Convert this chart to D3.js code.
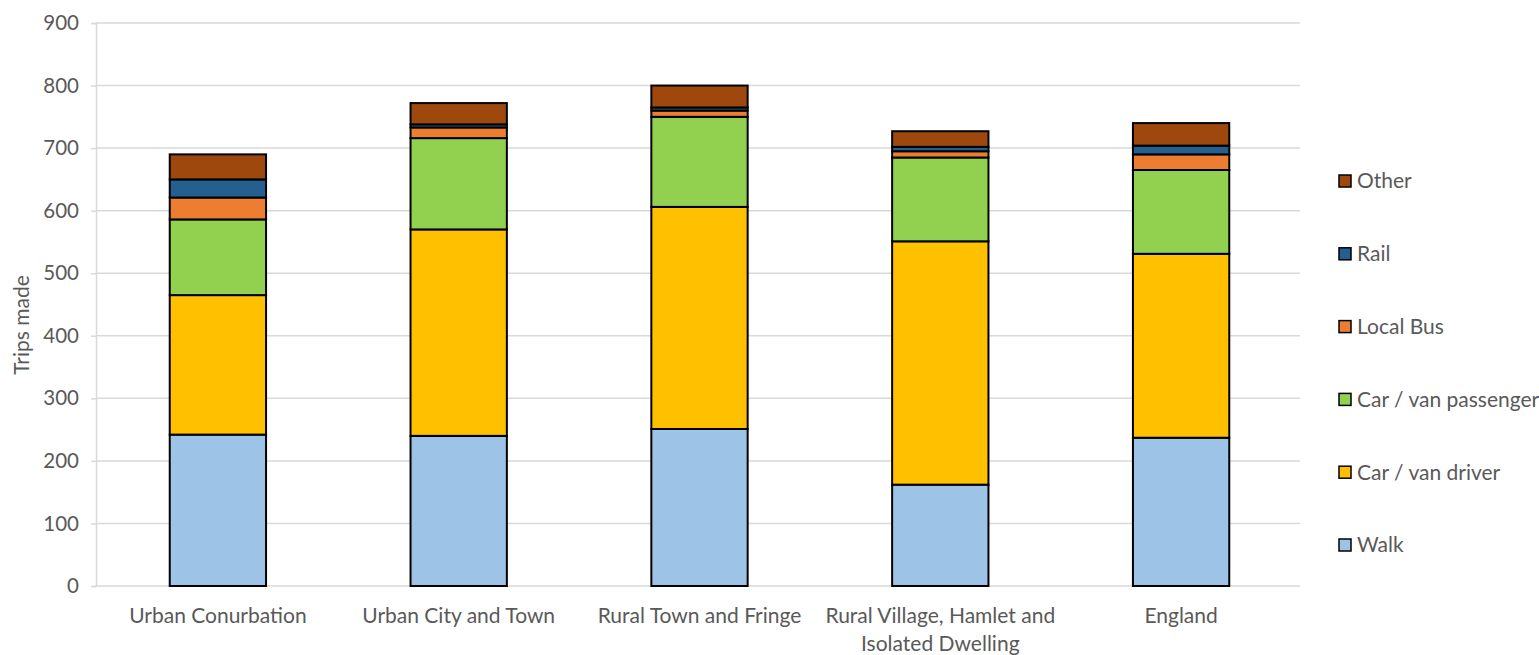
<!DOCTYPE html>
<html>
<head>
<meta charset="utf-8">
<script src="https://cdn.jsdelivr.net/npm/d3@7"></script>
<style>
  html, body { margin: 0; padding: 0; background: #fff; }
  svg { display: block; font-family: Lato, "Open Sans", sans-serif; }
</style>
</head>
<body>
<svg id="chart" width="1539" height="655"></svg>
<script>
const categories = [
  ["Urban Conurbation"],
  ["Urban City and Town"],
  ["Rural Town and Fringe"],
  ["Rural Village, Hamlet and", "Isolated Dwelling"],
  ["England"]
];
const seriesNames = ["Walk", "Car / van driver", "Car / van passenger", "Local Bus", "Rail", "Other"];
const walk      = [242, 240, 251, 162, 237];
const driver    = [223, 330, 355, 389, 294];
const passenger = [121, 146, 144, 134, 134];
const bus       = [35, 17, 10, 10, 25];
const rail      = [29, 5, 5, 7, 14];
const other     = [40, 34, 35, 25, 36];
const yTicks    = [0, 100, 200, 300, 400, 500, 600, 700, 800, 900];
const colors    = ["#9DC3E6", "#FFC000", "#92D050", "#ED7D31", "#255E91", "#9E480E"];

const seriesValues = [walk, driver, passenger, bus, rail, other];
const rows = categories.map((c, i) => {
  const r = { key: i };
  seriesNames.forEach((s, j) => { r[s] = seriesValues[j][i]; });
  return r;
});

const svg = d3.select("#chart");
const plotLeft = 96, plotRight = 1300, plotTop = 23, plotBottom = 586;

const x = d3.scaleBand().domain(categories.map((c, i) => i)).range([plotLeft + 1.5, plotRight + 1.5])
  .paddingInner(0.6).paddingOuter(0.3);
const y = d3.scaleLinear().domain([0, 900]).range([plotBottom, plotTop]);
const color = d3.scaleOrdinal().domain(seriesNames).range(colors);

// gridlines
svg.append("g").selectAll("line").data(yTicks.filter(t => t > 0)).join("line")
  .attr("x1", plotLeft).attr("x2", plotRight)
  .attr("y1", d => y(d)).attr("y2", d => y(d))
  .attr("stroke", "#d9d9d9").attr("stroke-width", 1.5);

// y axis
const yAxis = svg.append("g").attr("transform", `translate(${plotLeft},0)`)
  .call(d3.axisLeft(y).tickValues(yTicks).tickSize(5).tickPadding(12));
yAxis.select(".domain").attr("stroke", "#d9d9d9").attr("stroke-width", 1.5);
yAxis.selectAll(".tick line").attr("stroke", "#d9d9d9").attr("stroke-width", 1.5);
yAxis.selectAll(".tick text").attr("fill", "#595959").style("font-size", "20.5px")
  .style("font-family", "Lato, 'Open Sans', sans-serif");

// x baseline
svg.append("line").attr("x1", plotLeft).attr("x2", plotRight)
  .attr("y1", y(0)).attr("y2", y(0)).attr("stroke", "#d9d9d9").attr("stroke-width", 1.5);

// stacked bars
const stack = d3.stack().keys(seriesNames)(rows);
svg.append("g").selectAll("g").data(stack).join("g")
  .attr("fill", d => color(d.key))
  .selectAll("rect").data(d => d).join("rect")
  .attr("x", d => x(d.data.key))
  .attr("width", x.bandwidth())
  .attr("y", d => y(d[1]))
  .attr("height", d => y(d[0]) - y(d[1]))
  .attr("stroke", "#000").attr("stroke-width", 2);

// category labels
const xl = svg.append("g");
categories.forEach((lines, i) => {
  const cx = x(i) + x.bandwidth() / 2;
  const t = xl.append("text").attr("text-anchor", "middle")
    .attr("fill", "#595959").style("font-size", "21px")
    .attr("x", cx).attr("y", 623);
  lines.forEach((ln, k) => {
    t.append("tspan").attr("x", cx).attr("dy", k === 0 ? 0 : 28).text(ln);
  });
});

// y axis title
svg.append("text").attr("transform", "translate(29,325) rotate(-90)")
  .attr("text-anchor", "middle").attr("fill", "#595959").style("font-size", "21px")
  .text("Trips made");

// legend
const legendY = d3.scalePoint().domain(seriesNames.slice().reverse()).range([181, 545]);
const lg = svg.append("g").selectAll("g").data(seriesNames).join("g")
  .attr("transform", d => `translate(1339,${legendY(d)})`);
lg.append("rect").attr("x", 0).attr("y", -6).attr("width", 12).attr("height", 12)
  .attr("fill", d => color(d)).attr("stroke", "#000").attr("stroke-width", 1.5);
lg.append("text").attr("x", 18).attr("y", 0).attr("dy", "0.35em")
  .attr("fill", "#595959").style("font-size", "21px").text(d => d);
</script>
</body>
</html>
